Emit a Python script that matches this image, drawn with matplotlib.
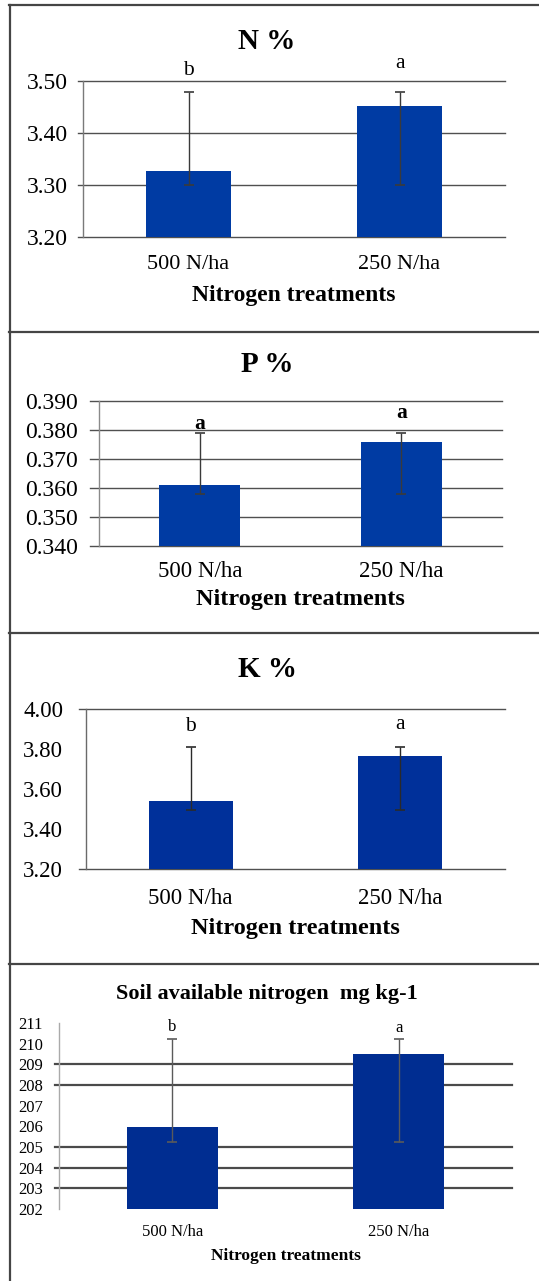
import numpy as np
import matplotlib
matplotlib.use("Agg")
import matplotlib.pyplot as plt
from matplotlib.lines import Line2D

plt.rcParams["font.family"] = ["Liberation Serif", "DejaVu Serif"]

W, H = 539, 1281

categories = ["500 N/ha", "250 N/ha"]
xlabel = "Nitrogen treatments"

# N %
n_mean = [3.326, 3.452]
n_low = [3.300, 3.300]
n_high = [3.479, 3.479]
n_letters = ["b", "a"]
n_ticks = [3.20, 3.30, 3.40, 3.50]

# P %
p_mean = [0.361, 0.376]
p_low = [0.358, 0.358]
p_high = [0.379, 0.379]
p_letters = ["a", "a"]
p_ticks = [0.340, 0.350, 0.360, 0.370, 0.380, 0.390]

# K %
k_mean = [3.539, 3.765]
k_low = [3.494, 3.494]
k_high = [3.811, 3.811]
k_letters = ["b", "a"]
k_ticks = [3.20, 3.40, 3.60, 3.80, 4.00]

# Soil available nitrogen
s_mean = [205.97, 209.49]
s_low = [205.26, 205.26]
s_high = [210.21, 210.21]
s_letters = ["b", "a"]
s_ticks = [202, 203, 204, 205, 206, 207, 208, 209, 210, 211]


def px(x):
    return x / W


def py(y):
    return 1 - y / H


panels = [
    dict(title="N %", mean=n_mean, low=n_low, high=n_high, letters=n_letters,
         ticks=n_ticks, fmt="%.2f", grid=[3.2, 3.3, 3.4, 3.5],
         box=(83, 81, 505, 237), color="#003BA3", ecolor="#3a3a3a",
         title_y=49, title_fs=21, ytick_fs=17, xtick_fs=16, ypad=10.8,
         xpad=12.7, xl_y=301, xl_fs=17, let_off=[17, 24], let_fs=15.5,
         let_bold=False, glen=5, spine="#7a7a7a", gridc="#505050", glw=1.0),
    dict(title="P %", mean=p_mean, low=p_low, high=p_high, letters=p_letters,
         ticks=p_ticks, fmt="%.3f", grid=[0.34, 0.35, 0.36, 0.37, 0.38, 0.39],
         box=(99, 401, 502, 546), color="#003BA3", ecolor="#3a3a3a",
         title_y=372, title_fs=21, ytick_fs=17, xtick_fs=16.5, ypad=15,
         xpad=11, xl_y=605, xl_fs=17.5, let_off=[4, 15], let_fs=15.5,
         let_bold=True, glen=9, spine="#8a8a8a", gridc="#505050", glw=1.0),
    dict(title="K %", mean=k_mean, low=k_low, high=k_high, letters=k_letters,
         ticks=k_ticks, fmt="%.2f", grid=[3.2, 4.0],
         box=(86, 709, 505, 869), color="#00309A", ecolor="#2a2a2a",
         title_y=677, title_fs=21, ytick_fs=16.5, xtick_fs=16.5, ypad=16.5,
         xpad=13.5, xl_y=934, xl_fs=17.5, let_off=[16, 18], let_fs=15.5,
         let_bold=False, glen=7, spine="#6a6a6a", gridc="#505050", glw=1.0),
    dict(title="Soil available nitrogen  mg kg-1", mean=s_mean, low=s_low,
         high=s_high, letters=s_letters, ticks=s_ticks, fmt="%d",
         grid=[203, 204, 205, 208, 209],
         box=(59, 1023, 512, 1209), color="#002D91", ecolor="#5a5a5a",
         title_y=999, title_fs=16, ytick_fs=12, xtick_fs=12, ypad=11.5,
         xpad=11, xl_y=1260, xl_fs=12.5, let_off=[8, 7], let_fs=12,
         let_bold=False, glen=4, spine="#aaaaaa", gridc="#4a4a4a", glw=1.6),
]

fig = plt.figure(figsize=(W / 100, H / 100), dpi=100)

for p in panels:
    l, t, r, b = p["box"]
    ax = fig.add_axes([px(l), py(b), px(r) - px(l), py(t) - py(b)])
    x = np.arange(len(categories))
    mean = np.array(p["mean"])
    yerr = [mean - np.array(p["low"]), np.array(p["high"]) - mean]
    ax.bar(x, mean, width=0.4, color=p["color"], zorder=3)
    ax.errorbar(x, mean, yerr=yerr, fmt="none", ecolor=p["ecolor"],
                elinewidth=1, capsize=3.6, capthick=1.2, zorder=4)
    ext = p["glen"] / (r - l)
    for g in p["grid"]:
        ax.axhline(g, xmin=-ext, xmax=1, color=p["gridc"], lw=p["glw"],
                   zorder=1, clip_on=False)
    ax.set_xlim(-0.5, 1.5)
    ax.set_ylim(p["ticks"][0], p["ticks"][-1])
    ax.set_yticks(p["ticks"])
    ax.set_yticklabels([p["fmt"] % v for v in p["ticks"]])
    ax.set_xticks(x)
    ax.set_xticklabels(categories)
    ax.tick_params(axis="y", length=0, pad=p["ypad"], labelsize=p["ytick_fs"])
    ax.tick_params(axis="x", length=0, pad=p["xpad"], labelsize=p["xtick_fs"])
    for s in ["top", "right", "bottom"]:
        ax.spines[s].set_visible(False)
    ax.spines["left"].set_color(p["spine"])
    ax.spines["left"].set_linewidth(1)
    for xi, hi, let, off in zip(x, p["high"], p["letters"], p["let_off"]):
        ax.annotate(let, (xi, hi), xytext=(0, off * 0.72),
                    textcoords="offset points", ha="center", va="baseline",
                    fontsize=p["let_fs"],
                    fontweight="bold" if p["let_bold"] else "normal",
                    annotation_clip=False)
    fig.text(px(267), py(p["title_y"]), p["title"], ha="center",
             va="baseline", fontsize=p["title_fs"], fontweight="bold")
    fig.text(px((l + r) / 2), py(p["xl_y"]), xlabel, ha="center",
             va="baseline", fontsize=p["xl_fs"], fontweight="bold")

# panel frames
frame = "#454545"
fig.add_artist(Line2D([px(9.5), px(9.5)], [py(5), py(H)], color=frame, lw=1.6))
for yy in [5, 332, 633, 964]:
    fig.add_artist(Line2D([px(9), px(W)], [py(yy), py(yy)], color=frame, lw=1.6))

fig.savefig("out.png", dpi=100)
